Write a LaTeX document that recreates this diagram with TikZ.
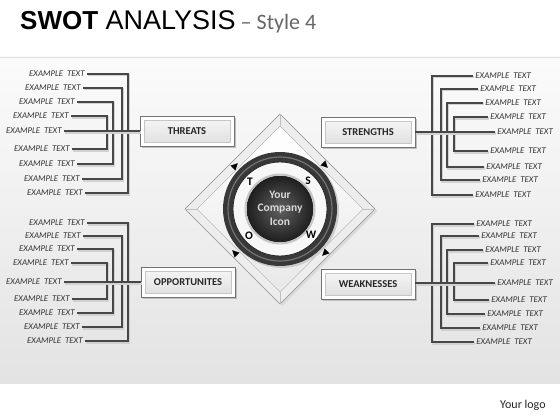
\documentclass[tikz,border=0pt]{standalone}
\usepackage{fontspec}
\setmainfont{Carlito}
\newfontfamily\arialf{Liberation Sans}
\newfontfamily\extfont[WordSpace={2.0}]{Carlito}
\begin{document}
\begin{tikzpicture}[x=1pt,y=-1pt,
  ex/.style={font=\extfont\itshape\fontsize{8.8}{10}\selectfont, text=black!80, inner xsep=2.2pt, inner ysep=1pt},
  conn/.style={draw=black!72, line width=1.3pt,
     preaction={draw=black!18, line width=2.6pt, transform canvas={shift={(1pt,-1.2pt)}}}},
  swbox/.style={rectangle, minimum width=94pt, minimum height=30pt, fill=white, draw=black!55, line width=0.6pt,
     font=\bfseries\fontsize{10.5}{12}\selectfont, text=black!85,
     path picture={\fill[top color=gray!6, bottom color=gray!26, draw=gray!45]
        ([shift={(4pt,-4pt)}]path picture bounding box.north west) rectangle
        ([shift={(-4pt,4pt)}]path picture bounding box.south east);},
     preaction={fill=black!25, transform canvas={shift={(2pt,-2pt)}}}},
  tri/.style={fill=black}
]
\useasboundingbox (0,0) rectangle (560,420);
% background
\fill[white] (0,0) rectangle (560,420);
\fill[top color=gray!3, bottom color=gray!22] (0,57) rectangle (560,383);
\draw[gray!25, line width=0.5pt] (0,57) -- (560,57);
% title
\node[anchor=base west, inner sep=0pt] (title) at (20,30)
  {{\arialf\bfseries\fontsize{26}{28}\selectfont SWOT}{\arialf\fontsize{27}{28}\selectfont\ ANALYSIS}\hspace{5pt}{\color{black!60}\fontsize{22}{26}\selectfont -- Style 4}};
\node[anchor=base west, inner sep=0pt, font=\fontsize{12}{14}\selectfont, text=black!85] (logo) at (500,408) {Your logo};

% diamond
\coordinate (c) at (280,209);
\fill[black!15, transform canvas={shift={(2pt,-2pt)}}] (280,114) -- (375,209) -- (280,304) -- (185,209) -- cycle;
\filldraw[fill=gray!14, draw=black!45, line width=0.6pt] (280,114) -- (375,209) -- (280,304) -- (185,209) -- cycle;
\filldraw[top color=white, bottom color=gray!18, draw=gray!45, line width=0.5pt] (280,126) -- (363,209) -- (280,292) -- (197,209) -- cycle;
\draw[gray!50, line width=0.5pt] (280,114) -- (280,126) (375,209) -- (363,209) (280,304) -- (280,292) (185,209) -- (197,209);

% ring
\fill[black!20, transform canvas={shift={(1.5pt,-1.5pt)}}] (c) circle (57.5);
\fill[black!78] (c) circle (57);
\draw[black!55, line width=1.2pt] (c) circle (52);
\filldraw[fill=gray!6, draw=black!85, line width=0.8pt] (c) circle (47);
\fill[gray!45] (c) circle (35.5);
\fill[inner color=black!62, outer color=black!88] (c) circle (33);
\node[align=center, font=\bfseries\fontsize{11.5}{13.5}\selectfont, text=gray!30] (icon) at (280,208) {Your\\Company\\Icon};

% letters
\node[font=\bfseries\fontsize{11.5}{13}\selectfont] (lT) at (250,182) {T};
\node[font=\bfseries\fontsize{11.5}{13}\selectfont] (lS) at (308,181) {S};
\node[font=\bfseries\fontsize{11.5}{13}\selectfont] (lO) at (249,236) {O};
\node[font=\bfseries\fontsize{11.5}{13}\selectfont] (lW) at (311,235) {W};

% arrow heads
\fill[tri, shift={(235,166)}, rotate=45] (4,0) -- (-3,3.5) -- (-3,-3.5) -- cycle;
\fill[tri, shift={(325,165)}, rotate=-45] (4,0) -- (-3,3.5) -- (-3,-3.5) -- cycle;
\fill[tri, shift={(325,253)}, rotate=-135] (4,0) -- (-3,3.5) -- (-3,-3.5) -- cycle;
\fill[tri, shift={(235,253)}, rotate=135] (4,0) -- (-3,3.5) -- (-3,-3.5) -- cycle;

% boxes
\node[swbox] (threats) at (187,131) {THREATS};
\node[swbox] (strengths) at (368,132) {STRENGTHS};
\node[swbox] (opps) at (188,282) {OPPORTUNITES};
\node[swbox] (weak) at (368,284) {WEAKNESSES};

% bar coordinates
\coordinate (bL1) at (128,0); \coordinate (bL2) at (122,0);
\coordinate (bL3) at (113,0); \coordinate (bL4) at (107,0);
\coordinate (bR1) at (432,0); \coordinate (bR2) at (441,0);
\coordinate (bR3) at (447,0); \coordinate (bR4) at (454,0);

% texts
\foreach \i/\x/\y in {1/87/74,2/83/88,3/77/102,4/71/116,5/64/131,6/72/149,7/77/164,8/82/179,9/85/193}
  \node[ex, anchor=east] (LT\i) at (\x,\y) {EXAMPLE TEXT};
\foreach \i/\x/\y in {1/87/223,2/83/236,3/77/249,4/71/263,5/64/282,6/72/299,7/77/313,8/82/327,9/85/341}
  \node[ex, anchor=east] (LB\i) at (\x,\y) {EXAMPLE TEXT};
\foreach \i/\x/\y in {1/473/76,2/478/89,3/483/103,4/488/117,5/495/132,6/488/151,7/484/167,8/480/180,9/473/195}
  \node[ex, anchor=west] (RT\i) at (\x,\y) {EXAMPLE TEXT};
\foreach \i/\x/\y in {1/474/224,2/479/236,3/483/250,4/488/263,5/495/283,6/489/300,7/485/314,8/480/328,9/474/342}
  \node[ex, anchor=west] (RB\i) at (\x,\y) {EXAMPLE TEXT};

% connectors
\foreach \g in {LT,LB}{
  \draw[conn] (\g1.east) -- (\g1.east -| bL1) |- (\g9.east);
  \draw[conn] (\g2.east) -- (\g2.east -| bL2) |- (\g8.east);
  \draw[conn] (\g3.east) -- (\g3.east -| bL3) |- (\g7.east);
  \draw[conn] (\g4.east) -- (\g4.east -| bL4) |- (\g6.east);
}
\foreach \g in {RT,RB}{
  \draw[conn] (\g1.west) -- (\g1.west -| bR1) |- (\g9.west);
  \draw[conn] (\g2.west) -- (\g2.west -| bR2) |- (\g8.west);
  \draw[conn] (\g3.west) -- (\g3.west -| bR3) |- (\g7.west);
  \draw[conn] (\g4.west) -- (\g4.west -| bR4) |- (\g6.west);
}
\draw[conn] (LT5.east) -- (LT5.east -| threats.west);
\draw[conn] (LB5.east) -- (LB5.east -| opps.west);
\draw[conn] (RT5.west) -- (RT5.west -| strengths.east);
\draw[conn] (RB5.west) -- (RB5.west -| weak.east);
\end{tikzpicture}
\end{document}
